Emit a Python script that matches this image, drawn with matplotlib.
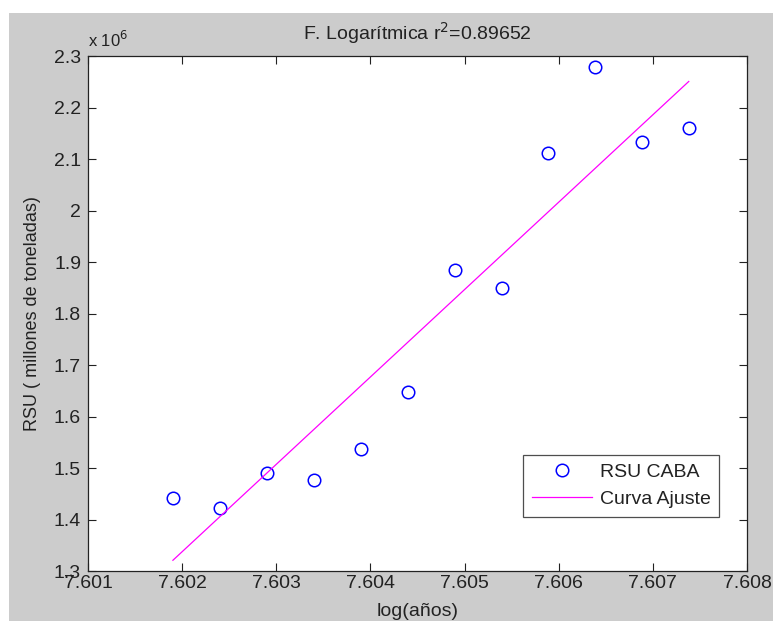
import numpy as np
import matplotlib
matplotlib.use("Agg")
import matplotlib.pyplot as plt
from matplotlib.patches import Rectangle

plt.rcParams['font.family'] = ['Liberation Sans', 'DejaVu Sans']

# data: RSU CABA per year, x axis is log(year)
years = np.array([2002, 2003, 2004, 2005, 2006, 2007, 2008, 2009, 2010, 2011, 2012, 2013])
rsu = np.array([1.442, 1.422, 1.491, 1.477, 1.536, 1.647, 1.884, 1.849,
                2.112, 2.279, 2.133, 2.161]) * 1e6
r2_text = "0.89652"
xticks = [7.601, 7.602, 7.603, 7.604, 7.605, 7.606, 7.607, 7.608]
yticks = [1.3, 1.4, 1.5, 1.6, 1.7, 1.8, 1.9, 2.0, 2.1, 2.2, 2.3]

x = np.log(years)
coef = np.polyfit(x, rsu, 1)
fit = np.polyval(coef, x)

W, H = 773, 621
fig = plt.figure(figsize=(W / 100, H / 100), dpi=100)
fig.patch.set_facecolor('white')
fig.patches.append(Rectangle((9 / W, 0), 1 - 9 / W, (H - 13) / H,
                             transform=fig.transFigure, facecolor='#cccccc',
                             edgecolor='none', zorder=-10))

ax = fig.add_axes([88 / W, (H - 571) / H, 659 / W, 515 / H])
ax.set_facecolor('white')

ax.plot(x, rsu, 'o', mfc='none', mec='#0000ff', ms=9, mew=1.1, label='RSU CABA')
ax.plot(x, fit, '-', color='#ff00ff', lw=0.9, label='Curva Ajuste')

ax.set_xlim(7.601, 7.608)
ax.set_ylim(1.3e6, 2.3e6)
ax.set_xticks(xticks)
ax.set_xticklabels(['%g' % t for t in xticks])
ax.set_yticks([t * 1e6 for t in yticks])
ax.set_yticklabels(['%g' % t for t in yticks])
ax.tick_params(direction='in', length=6, width=0.8, top=True, right=True,
               labelsize=14, colors='#222222')
ax.tick_params(axis='y', pad=5)
ax.tick_params(axis='x', pad=3)
for s in ax.spines.values():
    s.set_color('#222222')
    s.set_linewidth(0.9)

ax.set_title('F. Logarítmica r$^2$=' + r2_text, fontsize=14, color='#222222', pad=12)
ax.text(0.0, 1.012, r'x 10$^6$', transform=ax.transAxes, fontsize=12,
        color='#222222', ha='left', va='bottom')
ax.set_ylabel('RSU ( millones de toneladas)', fontsize=13, color='#222222', labelpad=9)
ax.set_xlabel('log(años)', fontsize=14, color='#222222', labelpad=8)

leg = ax.legend(loc='lower left', bbox_to_anchor=(0.660, 0.1049), fontsize=14,
                frameon=True, fancybox=False, edgecolor='#222222', borderpad=0.45,
                handlelength=3.1, handletextpad=0.4, labelspacing=0.5,
                borderaxespad=0)
leg.get_frame().set_linewidth(0.9)
for t in leg.get_texts():
    t.set_color('#222222')

fig.savefig('out.png', dpi=100, facecolor=fig.get_facecolor())
